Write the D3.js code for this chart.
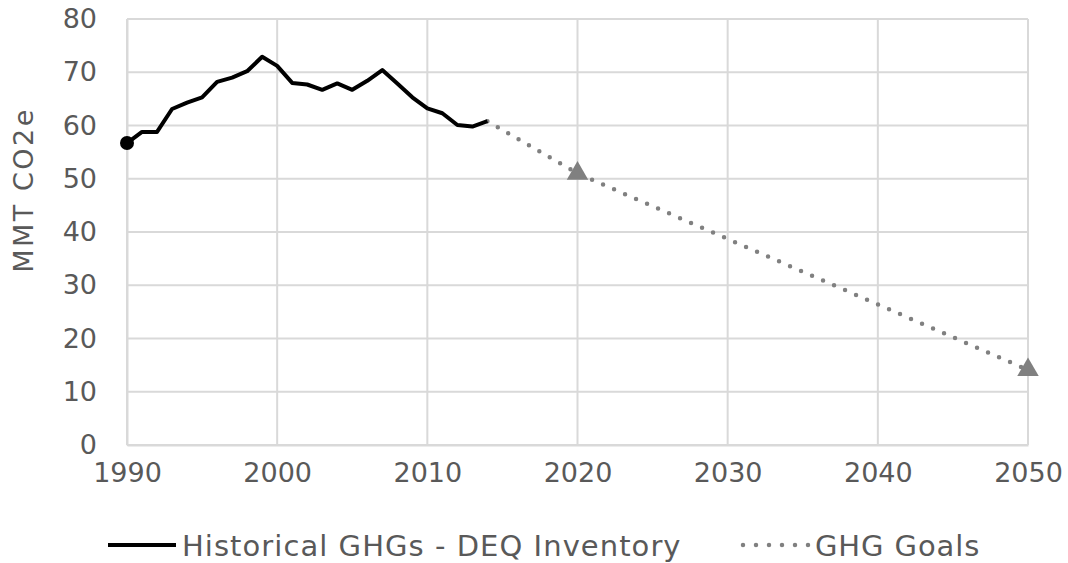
<!DOCTYPE html>
<html>
<head>
<meta charset="utf-8">
<script src="https://cdn.jsdelivr.net/npm/d3@7"></script>
<style>
  body { margin: 0; background: #fff; }
  svg text { font-family: "DejaVu Sans", Verdana, sans-serif; fill: #595959; }
</style>
</head>
<body>
<svg width="1068" height="563"></svg>
<script>
// historical inventory, 1990-2014
const histYears = d3.range(1990, 2015);
const histValues = [56.7, 58.8, 58.8, 63.1, 64.3, 65.3, 68.2, 69.0, 70.2, 72.9,
  71.2, 68.0, 67.7, 66.7, 67.9, 66.7, 68.4, 70.4, 67.9, 65.3,
  63.2, 62.3, 60.1, 59.8, 60.8];
// goals
const goalYears = [2014, 2020, 2050];
const goalValues = [60.8, 51.0, 14.1];
const xTicks = [1990, 2000, 2010, 2020, 2030, 2040, 2050];
const yTicks = [0, 10, 20, 30, 40, 50, 60, 70, 80];

const black = '#000000';
const grey = '#808080';
const gridGrey = '#d9d9d9';

const svg = d3.select('svg');
const margin = { left: 127, right: 40, top: 19, bottom: 118 };
const width = 1068;
const height = 563;

const x = d3.scaleLinear()
  .domain([1990, 2050])
  .range([margin.left, width - margin.right]);
const y = d3.scaleLinear()
  .domain([0, 80])
  .range([height - margin.bottom, margin.top]);

// gridlines
svg.append('g')
  .selectAll('line')
  .data(yTicks)
  .join('line')
  .attr('x1', x(1990))
  .attr('x2', x(2050))
  .attr('y1', d => y(d))
  .attr('y2', d => y(d))
  .attr('stroke', gridGrey)
  .attr('stroke-width', 2);
svg.append('g')
  .selectAll('line')
  .data(xTicks)
  .join('line')
  .attr('x1', d => x(d))
  .attr('x2', d => x(d))
  .attr('y1', y(0))
  .attr('y2', y(80))
  .attr('stroke', gridGrey)
  .attr('stroke-width', 2);

// axes
const yAxis = svg.append('g')
  .attr('transform', `translate(${x(1990)},0)`)
  .call(d3.axisLeft(y).tickValues(yTicks).tickSize(0).tickPadding(30));
const xAxis = svg.append('g')
  .attr('transform', `translate(0,${y(0)})`)
  .call(d3.axisBottom(x).tickValues(xTicks).tickFormat(d3.format('d')).tickSize(0).tickPadding(18));
[yAxis, xAxis].forEach((g) => {
  g.select('.domain').attr('stroke', gridGrey).attr('stroke-width', 2);
  g.selectAll('text').attr('font-size', 27).attr('fill', '#595959')
    .style('font-family', '"DejaVu Sans", Verdana, sans-serif');
});

svg.append('text')
  .attr('transform', `translate(33,190) rotate(-90)`)
  .attr('text-anchor', 'middle')
  .attr('font-size', 27)
  .attr('letter-spacing', 2.5)
  .text('MMT CO2e');

// goals line (dotted)
const goalLine = d3.line()
  .x((d, i) => x(goalYears[i]))
  .y(d => y(d));
svg.append('path')
  .datum(goalValues)
  .attr('d', goalLine)
  .attr('fill', 'none')
  .attr('stroke', grey)
  .attr('stroke-width', 4.5)
  .attr('stroke-linecap', 'round')
  .attr('stroke-dasharray', '0 12');
svg.append('g')
  .selectAll('path')
  .data(goalValues.slice(1))
  .join('path')
  .attr('d', d3.symbol().type(d3.symbolTriangle).size(200)())
  .attr('transform', (d, i) => `translate(${x(goalYears[i + 1])},${y(d)})`)
  .attr('fill', grey);

// historical line
const histLine = d3.line()
  .x((d, i) => x(histYears[i]))
  .y(d => y(d));
svg.append('path')
  .datum(histValues)
  .attr('d', histLine)
  .attr('fill', 'none')
  .attr('stroke', black)
  .attr('stroke-width', 4)
  .attr('stroke-linejoin', 'round');
svg.append('circle')
  .attr('cx', x(histYears[0]))
  .attr('cy', y(histValues[0]))
  .attr('r', 7)
  .attr('fill', black);

// legend
const legend = svg.append('g').attr('transform', 'translate(0,545)');
legend.append('line')
  .attr('x1', 108).attr('x2', 176)
  .attr('stroke', black).attr('stroke-width', 4);
legend.append('text')
  .attr('x', 182).attr('y', 10.5)
  .attr('font-size', 29)
  .attr('letter-spacing', 1.05)
  .text('Historical GHGs - DEQ Inventory');
legend.append('line')
  .attr('x1', 743).attr('x2', 808.5)
  .attr('stroke', grey).attr('stroke-width', 4.5)
  .attr('stroke-linecap', 'round')
  .attr('stroke-dasharray', '0 13');
legend.append('text')
  .attr('x', 815).attr('y', 10.5)
  .attr('font-size', 29)
  .attr('letter-spacing', 0.9)
  .text('GHG Goals');
</script>
</body>
</html>
